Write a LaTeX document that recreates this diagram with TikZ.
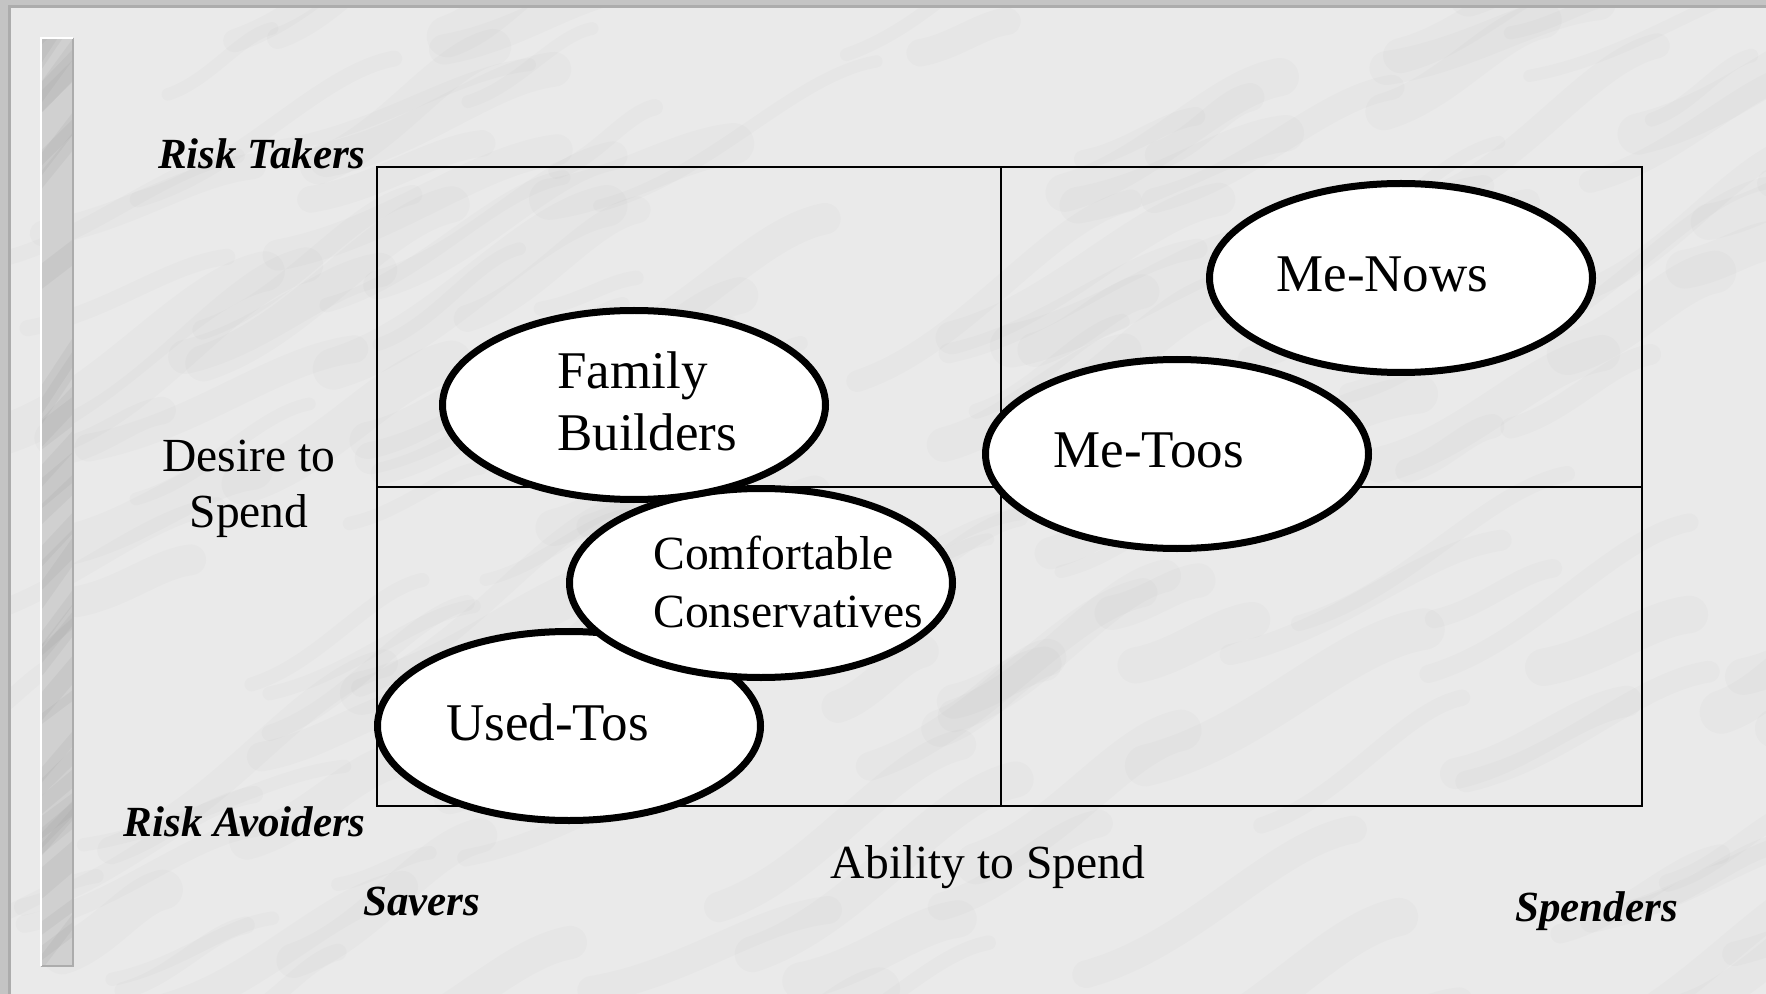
\documentclass[tikz,border=0pt]{standalone}
\usepackage{fontspec}
\setmainfont{Liberation Serif}
\usetikzlibrary{shapes.geometric}

\definecolor{stone}{RGB}{196,196,196}
\definecolor{panel}{RGB}{234,234,234}
\definecolor{rim}{RGB}{172,172,172}
\definecolor{barfill}{RGB}{208,208,208}
\definecolor{vein}{RGB}{150,150,150}

\tikzset{
  segment/.style={ellipse, draw=black, line width=3.5pt, fill=white,
    minimum width=191.5pt, minimum height=94.5pt, inner sep=0pt},
  seglabel/.style={anchor=base west, inner sep=0pt,
    font=\fontsize{26.5}{31}\selectfont},
  seglabelsmall/.style={anchor=base west, inner sep=0pt,
    font=\fontsize{23.8}{28}\selectfont},
  axislabel/.style={anchor=base, inner sep=0pt,
    font=\fontsize{23.75}{28}\selectfont},
  polelabel/.style={inner sep=0pt,
    font=\fontsize{21.5}{26}\selectfont\bfseries\itshape},
  gridline/.style={draw=black, line width=1pt},
  marblevein/.style={draw=vein, line cap=round, opacity=0.045}
}

\begin{document}
\begin{tikzpicture}[x=0.5pt,y=-0.5pt]
  \useasboundingbox (0,0) rectangle (1766,994);

  % backdrop and slide panel
  \fill[stone] (0,0) rectangle (1766,994);
  \fill[panel] (9,7) rectangle (1766,994);

  % soft marble clouding across the panel
  \begin{scope}
    \clip (9,7) rectangle (1766,994);
    \pgfmathsetseed{4242}
    \foreach \k in {1,...,160} {
      \pgfmathsetmacro{\xa}{rnd*1860-60}
      \pgfmathsetmacro{\ya}{rnd*1080-20}
      \pgfmathsetmacro{\len}{80+rnd*200}
      \pgfmathsetmacro{\wd}{6+rnd*16}
      \pgfmathsetmacro{\dy}{-\len*(0.3+rnd*0.4)}
      \draw[marblevein, line width=\wd pt]
        (\xa,\ya) .. controls ++(\len*0.4,\dy*0.2) and ++(-\len*0.3,-\dy*0.1) .. ++(\len,\dy);
    }
  \end{scope}
  \draw[rim, line width=1.5pt] (9,994) -- (9,7) -- (1766,7);

  % vertical side bar
  \fill[barfill] (41,38) rectangle (73,966);
  \begin{scope}
    \clip (41,38) rectangle (73,966);
    \pgfmathsetseed{77}
    \foreach \k in {1,...,40} {
      \pgfmathsetmacro{\ya}{rnd*960+20}
      \pgfmathsetmacro{\wd}{4+rnd*8}
      \draw[marblevein, opacity=0.12, line width=\wd pt] (36,\ya) -- ++(45,-30-rnd*40);
    }
  \end{scope}
  \draw[rim, line width=1.2pt] (73,38) -- (73,966) -- (41,966);
  \draw[white, line width=1.2pt] (41,966) -- (41,38) -- (73,38);

  % quadrant grid
  \coordinate (gtl) at (377,167);
  \coordinate (gbr) at (1642,806);
  \coordinate (vtop) at (1001,167);
  \coordinate (vbot) at (1001,806);
  \coordinate (hl) at (377,487);
  \coordinate (hr) at (1642,487);
  \draw[gridline] (gtl) rectangle (gbr);
  \draw[gridline] (vtop) -- (vbot);
  \draw[gridline] (hl) -- (hr);

  % market segments
  \node[segment] (menows) at (1401,278) {};
  \node[segment] (metoos) at (1177,454) {};
  \node[segment] (usedtos) at (569,726) {};
  \node[segment] (comfcons) at (761,583) {};
  \node[segment] (famb) at (634,405) {};

  \node[seglabel] (tmenows) at (1276,292) {Me-Nows};
  \node[seglabel] (tmetoos) at (1053,467) {Me-Toos};
  \node[seglabel] (tusedtos) at (446,740) {Used-Tos};
  \node[seglabelsmall] (tcomf1) at (653,569) {Comfortable};
  \node[seglabelsmall] (tcomf2) at (653,627) {Conservatives};
  \node[seglabel] (tfam1) at (557,389) {Family};
  \node[seglabel] (tfam2) at (557,451) {Builders};

  % axis captions
  \node[axislabel] (desire1) at (249,472) {Desire to};
  \node[axislabel] (desire2) at (249,527) {Spend};
  \node[axislabel] (ability) at (988,878) {Ability to Spend};

  \node[polelabel, anchor=base east] (takers) at (366,169) {Risk Takers};
  \node[polelabel, anchor=base east] (avoiders) at (366,836) {Risk Avoiders};
  \node[polelabel, anchor=base west] (savers) at (363,915) {Savers};
  \node[polelabel, anchor=base west] (spenders) at (1515,921) {Spenders};
\end{tikzpicture}
\end{document}
